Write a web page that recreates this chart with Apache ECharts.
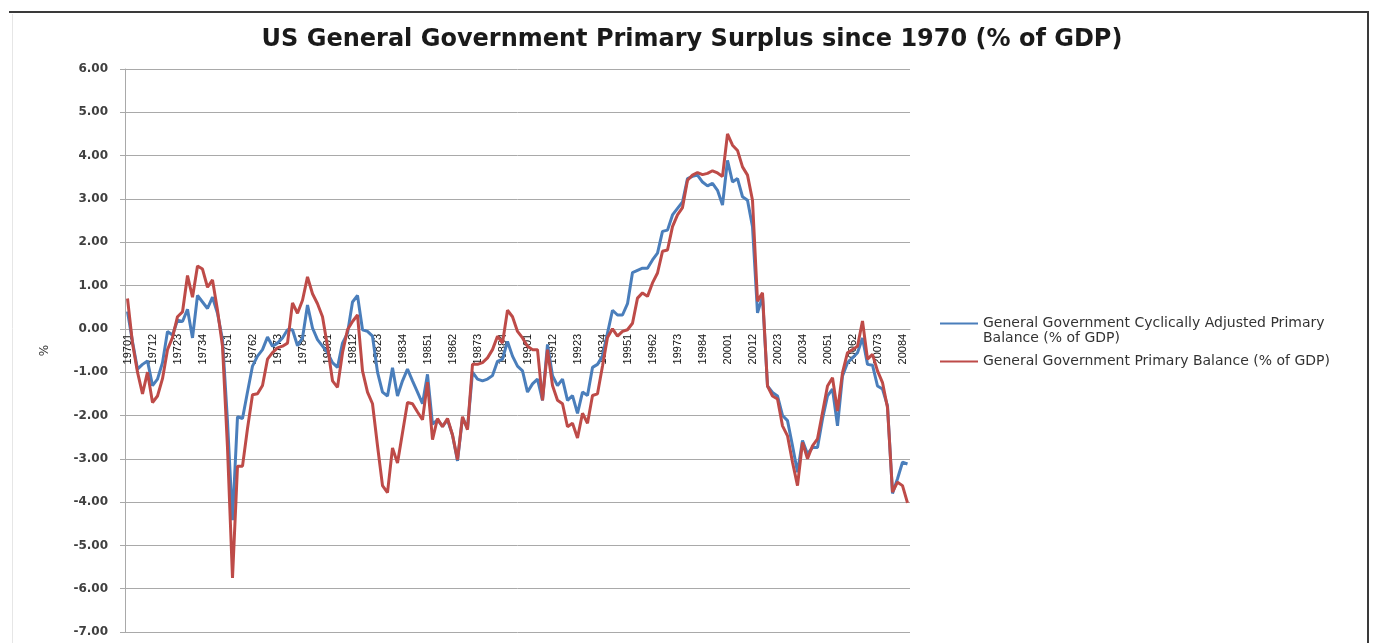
<!DOCTYPE html>
<html>
<head>
<meta charset="utf-8">
<script src="https://cdn.jsdelivr.net/npm/echarts@6/dist/echarts.min.js"></script>
<style>
  html, body { margin: 0; padding: 0; background: #ffffff; }
  #chart { width: 1384px; height: 643px; }
</style>
</head>
<body>
<div id="chart"></div>
<script>
// Quarterly periods, 1970 Q1 to 2009 Q1 (year followed by quarter number)
const quarters = [
  "19701","19702","19703","19704","19711","19712","19713","19714","19721","19722","19723","19724",
  "19731","19732","19733","19734","19741","19742","19743","19744","19751","19752","19753","19754",
  "19761","19762","19763","19764","19771","19772","19773","19774","19781","19782","19783","19784",
  "19791","19792","19793","19794","19801","19802","19803","19804","19811","19812","19813","19814",
  "19821","19822","19823","19824","19831","19832","19833","19834","19841","19842","19843","19844",
  "19851","19852","19853","19854","19861","19862","19863","19864","19871","19872","19873","19874",
  "19881","19882","19883","19884","19891","19892","19893","19894","19901","19902","19903","19904",
  "19911","19912","19913","19914","19921","19922","19923","19924","19931","19932","19933","19934",
  "19941","19942","19943","19944","19951","19952","19953","19954","19961","19962","19963","19964",
  "19971","19972","19973","19974","19981","19982","19983","19984","19991","19992","19993","19994",
  "20001","20002","20003","20004","20011","20012","20013","20014","20021","20022","20023","20024",
  "20031","20032","20033","20034","20041","20042","20043","20044","20051","20052","20053","20054",
  "20061","20062","20063","20064","20071","20072","20073","20074","20081","20082","20083","20084",
  "20091"
];

// Cyclically adjusted primary balance, % of GDP
const cyclicallyAdjusted = [
  0.40, -0.30, -0.93, -0.82, -0.74, -1.31, -1.16, -0.78, -0.06, -0.14, 0.20, 0.17,
  0.45, -0.21, 0.77, 0.62, 0.47, 0.73, 0.36, -0.25, -2.14, -4.42, -2.03, -2.07,
  -1.46, -0.86, -0.63, -0.48, -0.19, -0.40, -0.33, -0.21, -0.02, -0.02, -0.39, -0.21,
  0.55, 0.02, -0.25, -0.40, -0.55, -0.78, -0.89, -0.33, -0.10, 0.62, 0.77, -0.02,
  -0.06, -0.17, -1.00, -1.46, -1.55, -0.90, -1.55, -1.20, -0.93, -1.20, -1.46, -1.73,
  -1.05, -2.20, -2.10, -2.25, -2.10, -2.45, -3.05, -2.05, -2.30, -1.00, -1.16, -1.20,
  -1.16, -1.08, -0.75, -0.70, -0.29, -0.63, -0.86, -0.97, -1.46, -1.27, -1.16, -1.65,
  -0.36, -1.08, -1.31, -1.16, -1.65, -1.54, -1.95, -1.46, -1.54, -0.89, -0.82, -0.63,
  -0.10, 0.43, 0.32, 0.32, 0.58, 1.30, 1.35, 1.40, 1.40, 1.59, 1.75, 2.25,
  2.28, 2.63, 2.78, 2.93, 3.47, 3.52, 3.55, 3.39, 3.30, 3.36, 3.20, 2.86,
  3.89, 3.39, 3.47, 3.05, 2.97, 2.36, 0.37, 0.75, -1.32, -1.47, -1.55, -2.00,
  -2.12, -2.70, -3.31, -2.58, -2.89, -2.74, -2.74, -2.08, -1.55, -1.39, -2.24, -1.09,
  -0.78, -0.67, -0.55, -0.21, -0.82, -0.84, -1.32, -1.39, -1.78, -3.80, -3.46, -3.08,
  -3.12
];

// Primary balance, % of GDP
const primaryBalance = [
  0.70, -0.33, -1.00, -1.50, -1.00, -1.70, -1.55, -1.15, -0.48, -0.20, 0.28, 0.39,
  1.23, 0.73, 1.45, 1.38, 0.96, 1.13, 0.43, -0.40, -2.75, -5.75, -3.17, -3.17,
  -2.30, -1.52, -1.50, -1.31, -0.70, -0.55, -0.44, -0.40, -0.33, 0.60, 0.36, 0.66,
  1.20, 0.81, 0.58, 0.28, -0.40, -1.20, -1.35, -0.55, -0.02, 0.17, 0.32, -0.97,
  -1.46, -1.73, -2.70, -3.62, -3.78, -2.75, -3.10, -2.40, -1.70, -1.73, -1.92, -2.10,
  -1.23, -2.56, -2.07, -2.26, -2.07, -2.45, -3.02, -2.03, -2.33, -0.82, -0.82, -0.78,
  -0.67, -0.48, -0.17, -0.33, 0.43, 0.28, -0.06, -0.21, -0.40, -0.48, -0.48, -1.65,
  -0.48, -1.31, -1.65, -1.73, -2.26, -2.18, -2.52, -1.95, -2.18, -1.54, -1.50, -0.86,
  -0.20, 0.00, -0.17, -0.06, -0.02, 0.13, 0.71, 0.83, 0.75, 1.06, 1.29, 1.79,
  1.82, 2.36, 2.63, 2.80, 3.43, 3.55, 3.61, 3.56, 3.59, 3.65, 3.60, 3.52,
  4.50, 4.24, 4.12, 3.74, 3.55, 2.97, 0.64, 0.83, -1.32, -1.55, -1.62, -2.24,
  -2.47, -3.08, -3.62, -2.62, -3.00, -2.70, -2.54, -1.93, -1.32, -1.13, -1.90, -1.01,
  -0.55, -0.48, -0.40, 0.18, -0.70, -0.59, -0.97, -1.24, -1.82, -3.77, -3.54, -3.62,
  -4.02
];

// Value-axis range and step
const yMin = -7;
const yMax = 6;
const yStep = 1;

const seriesNames = [
  "General Government Cyclically Adjusted Primary Balance (% of GDP)",
  "General Government Primary Balance (% of GDP)"
];
// Legend wording; the long name wraps onto a second line, and a blank first
// line keeps its first text line level with the key line
const legendLines = {
  [seriesNames[0]]: "\nGeneral Government Cyclically Adjusted Primary\nBalance (% of GDP)",
  [seriesNames[1]]: "General Government Primary Balance (% of GDP)"
};

const chart = echarts.init(document.getElementById('chart'), null, { renderer: 'canvas' });

const gridColor = '#a9a9a9';
const textFont = '"DejaVu Sans", sans-serif';

// Plot box
const gridTop = 69;
const gridBottom = 11;
const plotHeight = 643 - gridTop - gridBottom;
// distance from the plot's lower edge up to the zero line, where the period axis sits
const zeroLift = plotHeight * (0 - yMin) / (yMax - yMin);

chart.setOption({
  animation: false,
  backgroundColor: '#ffffff',
  title: {
    text: 'US General Government Primary Surplus since 1970 (% of GDP)',
    left: 'center',
    top: 23,
    textStyle: { fontFamily: textFont, fontWeight: 'bold', fontSize: 24, color: '#1a1a1a' }
  },
  legend: {
    orient: 'vertical',
    left: 935,
    top: 296,
    itemWidth: 38,
    itemHeight: 2,
    itemGap: 8,
    icon: 'rect',
    data: seriesNames,
    formatter: name => legendLines[name],
    textStyle: {
      fontFamily: textFont, fontSize: 14, color: '#333333', lineHeight: 15
    }
  },
  graphic: [
    { type: 'line', shape: { x1: 9, y1: 12, x2: 1369, y2: 12 }, style: { stroke: '#3a3a3a', lineWidth: 2 }, silent: true },
    { type: 'line', shape: { x1: 1368, y1: 12, x2: 1368, y2: 643 }, style: { stroke: '#3a3a3a', lineWidth: 2 }, silent: true },
    { type: 'line', shape: { x1: 12.5, y1: 14, x2: 12.5, y2: 643 }, style: { stroke: '#e6e6e6', lineWidth: 1 }, silent: true }
  ],
  grid: {
    left: 125, right: 474, top: gridTop, bottom: gridBottom,
    containLabel: false,
    outerBoundsMode: 'none'
  },
  xAxis: {
    type: 'category',
    data: quarters,
    boundaryGap: true,
    position: 'bottom',
    offset: -zeroLift,
    axisLine: { onZero: false, lineStyle: { color: gridColor, width: 1 } },
    axisTick: { show: false },
    axisLabel: {
      interval: 4,
      rotate: 90,
      margin: 5,
      fontFamily: '"Liberation Sans", sans-serif',
      fontSize: 11,
      color: '#111111'
    },
    splitLine: { show: false }
  },
  yAxis: {
    type: 'value',
    min: yMin,
    max: yMax,
    interval: yStep,
    name: '%',
    nameLocation: 'middle',
    nameRotate: 90,
    nameGap: 74,
    nameTextStyle: { fontFamily: textFont, fontSize: 12, color: '#333333' },
    axisLine: { show: true, onZero: false, lineStyle: { color: gridColor, width: 1 } },
    axisTick: { show: true, length: 5, lineStyle: { color: gridColor } },
    axisLabel: {
      formatter: v => v.toFixed(2),
      margin: 17,
      fontFamily: textFont,
      fontWeight: 'bold',
      fontSize: 12,
      color: '#404040'
    },
    splitLine: { show: true, lineStyle: { color: gridColor, width: 1 } }
  },
  series: [
    {
      name: seriesNames[0],
      type: 'line',
      data: cyclicallyAdjusted,
      showSymbol: false,
      symbol: 'none',
      lineStyle: { color: '#4a7ebb', width: 3 },
      itemStyle: { color: '#4a7ebb' },
      z: 2
    },
    {
      name: seriesNames[1],
      type: 'line',
      data: primaryBalance,
      showSymbol: false,
      symbol: 'none',
      lineStyle: { color: '#be4b48', width: 3 },
      itemStyle: { color: '#be4b48' },
      z: 3
    }
  ]
});
</script>
</body>
</html>
